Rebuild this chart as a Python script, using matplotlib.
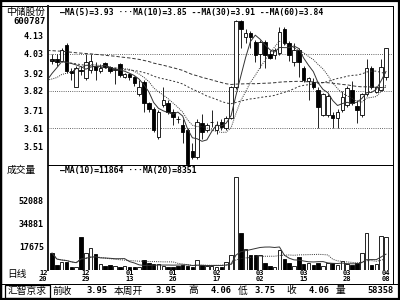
import numpy as np
import pandas as pd
import matplotlib
matplotlib.use("Agg")
import matplotlib.pyplot as plt
from matplotlib.lines import Line2D
from matplotlib.patches import Rectangle

# daily bars of 600787, 12/20 .. 04/08
opens = [4.00, 4.00, 3.99, 4.08, 3.93, 3.84, 3.94, 3.89, 3.94, 3.96,
         3.93, 3.975, 3.955, 3.94, 3.97, 3.90, 3.915, 3.90, 3.80, 3.87,
         3.75, 3.72, 3.56, 3.74, 3.75, 3.70, 3.665, 3.63, 3.60, 3.48,
         3.45, 3.64, 3.60, 3.644, 3.60, 3.645, 3.61, 3.67, 3.84, 4.21,
         4.12, 4.145, 4.095, 4.03, 4.095, 4.03, 4.02, 4.035, 4.17, 4.09,
         3.98, 4.05, 3.95, 3.875, 3.87, 3.825, 3.685, 3.685, 3.685, 3.67,
         3.71, 3.74, 3.825, 3.735, 3.685, 3.80, 3.95, 3.815, 3.825, 3.90]
highs = [4.03, 4.03, 4.06, 4.09, 3.95, 3.96, 3.96, 4.03, 4.03, 3.98,
         3.97, 3.98, 3.96, 3.955, 3.975, 3.92, 3.92, 3.905, 3.88, 3.88,
         3.76, 3.73, 3.71, 3.84, 3.77, 3.72, 3.68, 3.66, 3.61, 3.53,
         3.66, 3.69, 3.64, 3.71, 3.65, 3.66, 3.68, 3.85, 4.22, 4.22,
         4.17, 4.155, 4.105, 4.105, 4.105, 4.05, 4.06, 4.18, 4.18, 4.10,
         4.09, 4.06, 3.96, 3.90, 3.89, 3.84, 3.81, 3.80, 3.70, 3.72,
         3.82, 3.85, 3.875, 3.77, 3.81, 4.00, 3.96, 3.845, 4.00, 4.06]
lows = [3.97, 3.96, 3.98, 3.92, 3.88, 3.84, 3.91, 3.88, 3.92, 3.88,
        3.92, 3.95, 3.92, 3.86, 3.90, 3.89, 3.88, 3.85, 3.79, 3.70,
        3.70, 3.59, 3.55, 3.73, 3.69, 3.63, 3.64, 3.53, 3.40, 3.44,
        3.44, 3.55, 3.59, 3.62, 3.58, 3.60, 3.60, 3.66, 3.83, 4.06,
        4.09, 4.06, 3.98, 3.95, 3.95, 4.00, 4.00, 4.02, 4.08, 3.99,
        3.96, 3.90, 3.87, 3.77, 3.83, 3.61, 3.68, 3.675, 3.61, 3.61,
        3.70, 3.73, 3.74, 3.64, 3.675, 3.79, 3.83, 3.81, 3.82, 3.88]
closes = [3.99, 3.98, 4.05, 3.93, 3.92, 3.95, 3.93, 3.98, 3.99, 3.94,
          3.95, 3.955, 3.93, 3.942, 3.91, 3.915, 3.90, 3.865, 3.84, 3.75,
          3.72, 3.60, 3.70, 3.77, 3.70, 3.675, 3.66, 3.59, 3.41, 3.45,
          3.645, 3.59, 3.63, 3.646, 3.63, 3.62, 3.67, 3.84, 4.21, 4.17,
          4.145, 4.12, 4.02, 4.095, 4.02, 4.005, 4.05, 4.15, 4.09, 4.02,
          4.05, 3.98, 3.88, 3.89, 3.84, 3.73, 3.80, 3.79, 3.67, 3.70,
          3.785, 3.835, 3.75, 3.715, 3.80, 3.95, 3.84, 3.84, 3.955, 4.06]
volumes = [12700, 3700, 6000, 6000, 2200, 2200, 24700, 12700, 16500, 12000,
           4500, 3000, 3700, 3000, 2200, 3000, 2500, 2200, 2500, 7500,
           5200, 4500, 4500, 3000, 2200, 2200, 3000, 3700, 3000, 2500,
           7500, 3700, 3000, 3000, 2200, 2500, 6000, 11200, 69600, 27700,
           15700, 11200, 11200, 11200, 5200, 3000, 2500, 15000, 8200, 5200,
           3000, 9500, 4500, 5400, 3700, 5200, 3000, 5200, 5200, 3700,
           6700, 4500, 3700, 5200, 12700, 27500, 3700, 4500, 25400, 24758]

# sessions just before 12/20, guessed from where MA5/MA10 enter the chart
prev_closes = [3.92, 3.90, 3.88, 3.86, 3.84, 3.80, 3.82, 3.88, 3.95, 3.95]

# MA30 / MA60, starting one session before 12/20
ma30 = [3.994, 3.991, 3.988, 3.987, 3.982, 3.976, 3.972, 3.967, 3.964, 3.961, 3.956,
        3.952, 3.948, 3.943, 3.942, 3.940, 3.939, 3.937, 3.934, 3.930, 3.923,
        3.915, 3.903, 3.894, 3.888, 3.882, 3.875, 3.868, 3.859, 3.844, 3.830,
        3.818, 3.805, 3.791, 3.782, 3.772, 3.761, 3.752, 3.748, 3.755, 3.763,
        3.769, 3.775, 3.778, 3.783, 3.787, 3.790, 3.795, 3.804, 3.812, 3.821,
        3.832, 3.845, 3.851, 3.855, 3.860, 3.862, 3.866, 3.873, 3.882, 3.890,
        3.895, 3.903, 3.907, 3.909, 3.915, 3.926, 3.931, 3.931, 3.923, 3.919]
ma60 = [4.047, 4.046, 4.044, 4.043, 4.040, 4.037, 4.034, 4.032, 4.030, 4.028, 4.025,
        4.023, 4.020, 4.017, 4.015, 4.011, 4.008, 4.005, 4.001, 3.997, 3.991,
        3.985, 3.976, 3.970, 3.964, 3.957, 3.950, 3.943, 3.935, 3.923, 3.912,
        3.905, 3.896, 3.889, 3.882, 3.874, 3.867, 3.860, 3.856, 3.858, 3.859,
        3.860, 3.861, 3.860, 3.862, 3.863, 3.864, 3.866, 3.869, 3.871, 3.872,
        3.873, 3.874, 3.872, 3.871, 3.871, 3.868, 3.867, 3.866, 3.863, 3.860,
        3.856, 3.854, 3.849, 3.845, 3.843, 3.843, 3.842, 3.840, 3.839, 3.841]

price_ticks = [3.51, 3.61, 3.71, 3.82, 3.92, 4.03, 4.13]
grid_levels = [3.61, 3.82, 4.03]
vol_ticks = [17675, 34881, 52088]
date_labels = ["12\n20", "12\n29", "01\n13", "01\n26", "02\n17",
               "03\n02", "03\n15", "03\n28", "04\n08"]
date_pos = [0, 7, 16, 25, 34, 43, 52, 61, 69]

stock_name = "中储股份"
stock_code = "600787"
price_legend = "—MA(5)=3.93 ···MA(10)=3.85 --MA(30)=3.91 --MA(60)=3.84"
vol_legend = "—MA(10)=11864 ···MA(20)=8351"
footer_items = ["前收", "3.95", "本周开", "3.95", "高", "4.06",
                "低", "3.75", "收", "4.06", "量", "58358"]

MONO = "DejaVu Sans Mono"
CJK = ["Noto Sans CJK SC", "DejaVu Sans"]
W, H = 400, 300


def fx(px):
    return px / W


def fy(py):
    return 1 - py / H


def hline(y, x1, x2, lw=1.0, color="black"):
    fig.add_artist(Line2D([fx(x1), fx(x2)], [fy(y), fy(y)], transform=fig.transFigure,
                          color=color, lw=lw * 0.72))


def vline(x, y1, y2, lw=1.0, color="black"):
    fig.add_artist(Line2D([fx(x), fx(x)], [fy(y1), fy(y2)], transform=fig.transFigure,
                          color=color, lw=lw * 0.72))


fig = plt.figure(figsize=(4, 3), dpi=100)
fig.patch.set_facecolor("white")

n = len(closes)
xs = np.arange(n)
step, x_first = 4.84, 52.0
xlim = ((48 - x_first) / step, (393 - x_first) / step)
ppu = 178.1  # pixels per 1.00 of price
price_lo = 4.03 - (165 - 53.5) / ppu
price_hi = 4.03 + (53.5 - 5.5) / ppu

o = np.array(opens)
c = np.array(closes)
up = c >= o
face = np.where(up, "white", "black")

# ---- price panel
ax = fig.add_axes([fx(48), fy(165), fx(393) - fx(48), fy(5.5) - fy(165)])
ax.set_xlim(*xlim)
ax.set_ylim(price_lo, price_hi)
for s in ax.spines.values():
    s.set_visible(False)
ax.set_xticks([])
ax.set_yticks(price_ticks)
ax.set_yticklabels([f"{t:.2f}" for t in price_ticks], fontfamily=MONO,
                   fontweight="bold", fontsize=6)
ax.tick_params(axis="y", length=0, pad=3)
for g in grid_levels:
    ax.axhline(g, color="#333333", lw=0.6, ls=(0, (1, 1.6)), zorder=1)

ax.vlines(xs, lows, highs, color="black", lw=0.6, zorder=2)
body = np.maximum(np.abs(c - o), 0.003)
ax.bar(xs, body, bottom=np.minimum(o, c), width=0.72, color=face,
       edgecolor="black", lw=0.6, zorder=3)

hist = pd.Series(prev_closes + closes)
start = len(prev_closes) - 1
ma5 = hist.rolling(5).mean().to_numpy()[start:]
ma10 = hist.rolling(10).mean().to_numpy()[start:]
xm = np.arange(-1, n)
ax.plot(xm, ma5, color="#333333", lw=0.7, zorder=4)
ax.plot(xm, ma10, color="#333333", lw=0.7, ls=(0, (1, 1.2)), zorder=4)
ax.plot(xm, ma30, color="#333333", lw=0.7, ls=(0, (2, 2)), zorder=4)
ax.plot(xm, ma60, color="#333333", lw=0.7, ls=(0, (3.5, 2)), zorder=4)

# ---- volume panel
axv = fig.add_axes([fx(48), fy(270), fx(393) - fx(48), fy(165) - fy(270)])
axv.set_xlim(*xlim)
axv.set_ylim(0, (270 - 165) * 748)
for s in axv.spines.values():
    s.set_visible(False)
axv.set_xticks([])
axv.set_yticks(vol_ticks)
axv.set_yticklabels([str(v) for v in vol_ticks], fontfamily=MONO,
                    fontweight="bold", fontsize=6)
axv.tick_params(axis="y", length=0, pad=3)
axv.bar(xs, volumes, width=0.72, color=face, edgecolor="black", lw=0.6, zorder=3)

vs = pd.Series(volumes)
axv.plot(xs, vs.rolling(10, min_periods=1).mean(), color="#333333", lw=0.7, zorder=4)
axv.plot(xs, vs.rolling(20, min_periods=1).mean(), color="#333333", lw=0.7,
         ls=(0, (1, 1.2)), zorder=4)

xt = axv.get_xaxis_transform()
for pos, lab in zip(date_pos, date_labels):
    if pos == 0:
        axv.text(xlim[0] - 0.1, -0.055, lab, transform=xt, ha="right", va="center",
                 fontfamily=MONO, fontweight="bold", fontsize=5, linespacing=0.9, clip_on=False)
    else:
        axv.text(pos, -0.055, lab, transform=xt, ha="center", va="center",
                 fontfamily=MONO, fontweight="bold", fontsize=5, linespacing=0.9, clip_on=False)

# ---- texts
fig.text(fx(26), fy(11.5), stock_name, family=CJK, fontsize=7, ha="center", va="center")
fig.text(fx(45.5), fy(21), stock_code, family=MONO, fontweight="bold", fontsize=6.5,
         ha="right", va="center")
fig.text(fx(60), fy(12.5), price_legend, family=MONO, fontweight="bold", fontsize=5.8,
         ha="left", va="center")
fig.text(fx(7), fy(170), "成交量", family=CJK, fontsize=7, ha="left", va="center")
fig.text(fx(60), fy(171), vol_legend, family=MONO, fontweight="bold", fontsize=5.9,
         ha="left", va="center")
fig.text(fx(7), fy(274.5), "日线", family=CJK, fontsize=7, ha="left", va="center")

# footer line
fig.text(fx(27.5), fy(290.5), "汇智京求", family=CJK, fontsize=7, ha="center", va="center")
fig.add_artist(Rectangle((fx(4.5), fy(297.5)), fx(50) - fx(4.5), fy(284.5) - fy(297.5),
                         transform=fig.transFigure, fill=False, ec="black", lw=0.9))
footer_x = [62, 97, 128, 166, 193, 221, 243, 265, 291, 319, 340, 380]
for item, xp in zip(footer_items, footer_x):
    if item[0].isdigit():
        fig.text(fx(xp), fy(290.5), item, family=MONO, fontweight="bold", fontsize=6.3,
                 ha="center", va="center")
    else:
        fig.text(fx(xp), fy(290.5), item, family=CJK, fontsize=7, ha="center", va="center")

# ---- frame
hline(1, 0, 400, lw=2.2)
hline(298.8, 0, 400, lw=2.2)
vline(1, 0, 300, lw=2.5)
vline(398.8, 0, 300, lw=2.2)
hline(5.5, 0, 393, lw=1.0)
vline(393, 5.5, 283.5, lw=1.0)
vline(47.5, 5.5, 270, lw=2.0, color="#222222")
hline(165, 47.5, 393, lw=1.0)
hline(283.5, 0, 400, lw=1.0)

fig.savefig("out.png", dpi=100, facecolor="white")
